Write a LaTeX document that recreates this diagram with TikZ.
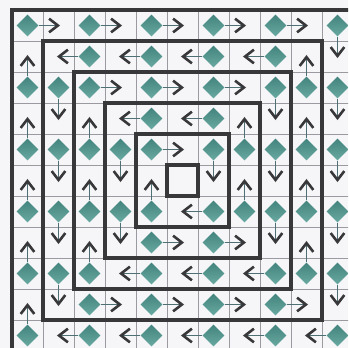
\documentclass[tikz,border=0pt]{standalone}
\usetikzlibrary{shapes.geometric,arrows.meta}
\definecolor{gemdark}{HTML}{44847E}
\definecolor{gemlight}{HTML}{68A9A1}
\definecolor{inkgrey}{HTML}{38383A}
\definecolor{gridgrey}{HTML}{9A9AA0}
\definecolor{shaftgrey}{HTML}{4E6F73}
\definecolor{paper}{HTML}{F6F6F9}

\begin{document}
\begin{tikzpicture}[
    x=0.8cm, y=-0.8cm,
    gem/.style={
        diamond, aspect=1, inner sep=0pt,
        minimum width=16pt, minimum height=16pt,
        top color=gemdark, bottom color=gemlight,
    },
    flow/.style={-{Straight Barb[length=6.5pt, width=10pt, line width=1.9pt, color=inkgrey]},
        line width=0.8pt, color=shaftgrey},
    ring/.style={line width=2.4pt, color=inkgrey},
    cellgrid/.style={line width=0.6pt, color=gridgrey},
]

% ── Page ──
\path[use as bounding box, fill=paper] (-0.387, -0.323) rectangle (10.839, 10.903);
\clip (-0.387, -0.323) rectangle (10.839, 10.903);

% ── Cell grid ──
\foreach \j in {0,...,11} {
    \draw[cellgrid] (\j, 0) -- (\j, 11);
    \draw[cellgrid] (0, \j) -- (11, \j);
}

% ── Ring borders ──
\foreach \i in {0,...,5}
    \draw[ring] (\i, \i) rectangle ({11-\i}, {11-\i});

% ── Clockwise rings (0, 2, 4) ──
\foreach \i in {0,2,4} {
    \pgfmathtruncatemacro\far{10-\i}
    \pgfmathtruncatemacro\last{4-\i}
    \foreach \sx/\sy/\dx/\dy [count=\s] in {\i/\i/1/0, \far/\i/0/1, \far/\far/-1/0, \i/\far/0/-1}
        \foreach \k in {0,...,\last} {
            \node[gem] (gem-\i-\s-\k) at ({\sx+2*\k*(\dx)+0.5}, {\sy+2*\k*(\dy)+0.5}) {};
            \coordinate (tip-\i-\s-\k) at ({\sx+(2*\k+1.05)*(\dx)+0.5}, {\sy+(2*\k+1.05)*(\dy)+0.5});
            \draw[flow] (gem-\i-\s-\k) -- (tip-\i-\s-\k);
        }
}

% ── Counter-clockwise rings (1, 3) ──
\foreach \i in {1,3} {
    \pgfmathtruncatemacro\far{10-\i}
    \pgfmathtruncatemacro\last{4-\i}
    \foreach \sx/\sy/\dx/\dy [count=\s] in {\far/\i/-1/0, \i/\i/0/1, \i/\far/1/0, \far/\far/0/-1}
        \foreach \k in {0,...,\last} {
            \node[gem] (gem-\i-\s-\k) at ({\sx+(2*\k+1)*(\dx)+0.5}, {\sy+(2*\k+1)*(\dy)+0.5}) {};
            \coordinate (tip-\i-\s-\k) at ({\sx+(2*\k+2.05)*(\dx)+0.5}, {\sy+(2*\k+2.05)*(\dy)+0.5});
            \draw[flow] (gem-\i-\s-\k) -- (tip-\i-\s-\k);
        }
}

\end{tikzpicture}
\end{document}
